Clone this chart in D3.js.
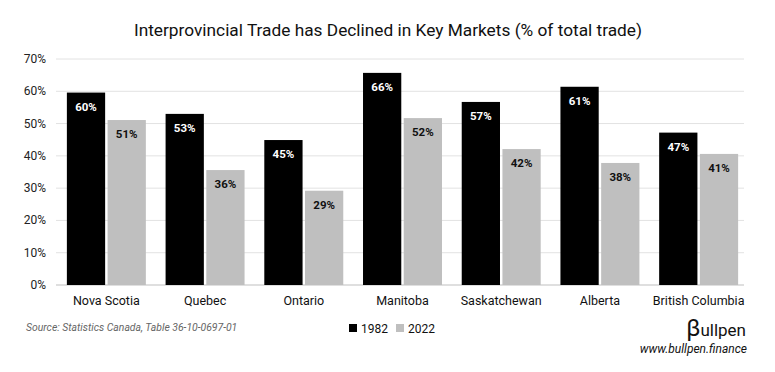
<!DOCTYPE html>
<html>
<head>
<meta charset="utf-8">
<script src="https://cdn.jsdelivr.net/npm/d3@7"></script>
<style>
 body { margin:0; background:#fff; }
 text { font-family: Roboto, "Liberation Sans", sans-serif; }
</style>
</head>
<body>
<div id="container"></div>
<script>
const provinces = ['Nova Scotia','Quebec','Ontario','Manitoba','Saskatchewan','Alberta','British Columbia'];
const years = ['1982','2022'];
const share1982 = [59.6, 53.0, 44.9, 65.7, 56.7, 61.4, 47.2];
const share2022 = [51.1, 35.6, 29.2, 51.7, 42.1, 37.8, 40.6];
const yTicks = [0,10,20,30,40,50,60,70];
const colors = ['#000000','#bfbfbf'];

const width = 775;
const height = 372;

const svg = d3.select('#container')
  .append('svg')
  .attr('width', width)
  .attr('height', height);

const x = d3.scaleBand().domain(provinces).range([57, 748]).paddingInner(0.2).paddingOuter(0.1);
const xs = d3.scaleBand().domain(years).range([0, x.bandwidth()]).paddingInner(0.06);
const y = d3.scaleLinear().domain([0,70]).range([285, 59]);

// gridlines
svg.append('g')
  .selectAll('line')
  .data(yTicks)
  .enter()
  .append('line')
  .attr('x1', 56).attr('x2', 744)
  .attr('y1', d => y(d)).attr('y2', d => y(d))
  .attr('stroke', d => d === 0 ? '#bfbfbf' : '#e2e2e2')
  .attr('stroke-width', 1);

// y labels
svg.append('g')
  .selectAll('text')
  .data(yTicks)
  .enter()
  .append('text')
  .attr('x', 46)
  .attr('y', d => y(d) + 4)
  .attr('text-anchor', 'end')
  .style('font-size', '12px')
  .attr('fill', '#222')
  .text(d => d + '%');

const series = [share1982, share2022];
const rows = [];
provinces.forEach((p, i) => {
  years.forEach((yr, j) => rows.push({ p, yr, v: series[j][i], j }));
});

svg.append('g')
  .selectAll('rect')
  .data(rows)
  .enter()
  .append('rect')
  .attr('x', d => x(d.p) + xs(d.yr))
  .attr('y', d => y(d.v))
  .attr('width', xs.bandwidth())
  .attr('height', d => y(0) - y(d.v))
  .attr('fill', d => colors[d.j]);

svg.append('g')
  .selectAll('text')
  .data(rows)
  .enter()
  .append('text')
  .attr('x', d => x(d.p) + xs(d.yr) + xs.bandwidth() / 2)
  .attr('y', d => y(d.v) + 18)
  .attr('text-anchor', 'middle')
  .style('font-size', '11.5px')
  .style('font-weight', 'bold')
  .attr('fill', d => d.j === 0 ? '#fff' : '#111')
  .text(d => Math.round(d.v) + '%');

// category labels
svg.append('g')
  .selectAll('text')
  .data(provinces)
  .enter()
  .append('text')
  .attr('x', d => x(d) + x.bandwidth() / 2)
  .attr('y', 305)
  .attr('text-anchor', 'middle')
  .style('font-size', '12.5px')
  .attr('fill', '#111')
  .text(d => d);

// title
svg.append('text')
  .attr('x', 388).attr('y', 36)
  .attr('text-anchor', 'middle')
  .style('font-size', '17.3px')
  .attr('fill', '#111')
  .text('Interprovincial Trade has Declined in Key Markets (% of total trade)');

// source
svg.append('text')
  .attr('x', 26).attr('y', 331)
  .style('font-size', '10.4px')
  .style('font-style', 'italic')
  .attr('fill', '#666')
  .text('Source: Statistics Canada, Table 36-10-0697-01');

// legend
const legend = svg.append('g').attr('transform', 'translate(349,323)');
years.forEach((yr, i) => {
  const lg = legend.append('g').attr('transform', `translate(${i * 47},0)`);
  lg.append('rect').attr('width', 8).attr('height', 8).attr('y', 1).attr('fill', colors[i]);
  lg.append('text').attr('x', 12).attr('y', 9.5).style('font-size', '12px').attr('fill', '#111').text(yr);
});

// logo
svg.append('text')
  .attr('x', 746).attr('y', 336)
  .attr('text-anchor', 'end')
  .attr('fill', '#111')
  .style('font-size', '17px')
  .html('<tspan style="font-size:24px">β</tspan>ullpen');

svg.append('text')
  .attr('x', 747).attr('y', 353)
  .attr('text-anchor', 'end')
  .style('font-size', '12px')
  .style('font-style', 'italic')
  .attr('fill', '#111')
  .text('www.bullpen.finance');
</script>
</body>
</html>
